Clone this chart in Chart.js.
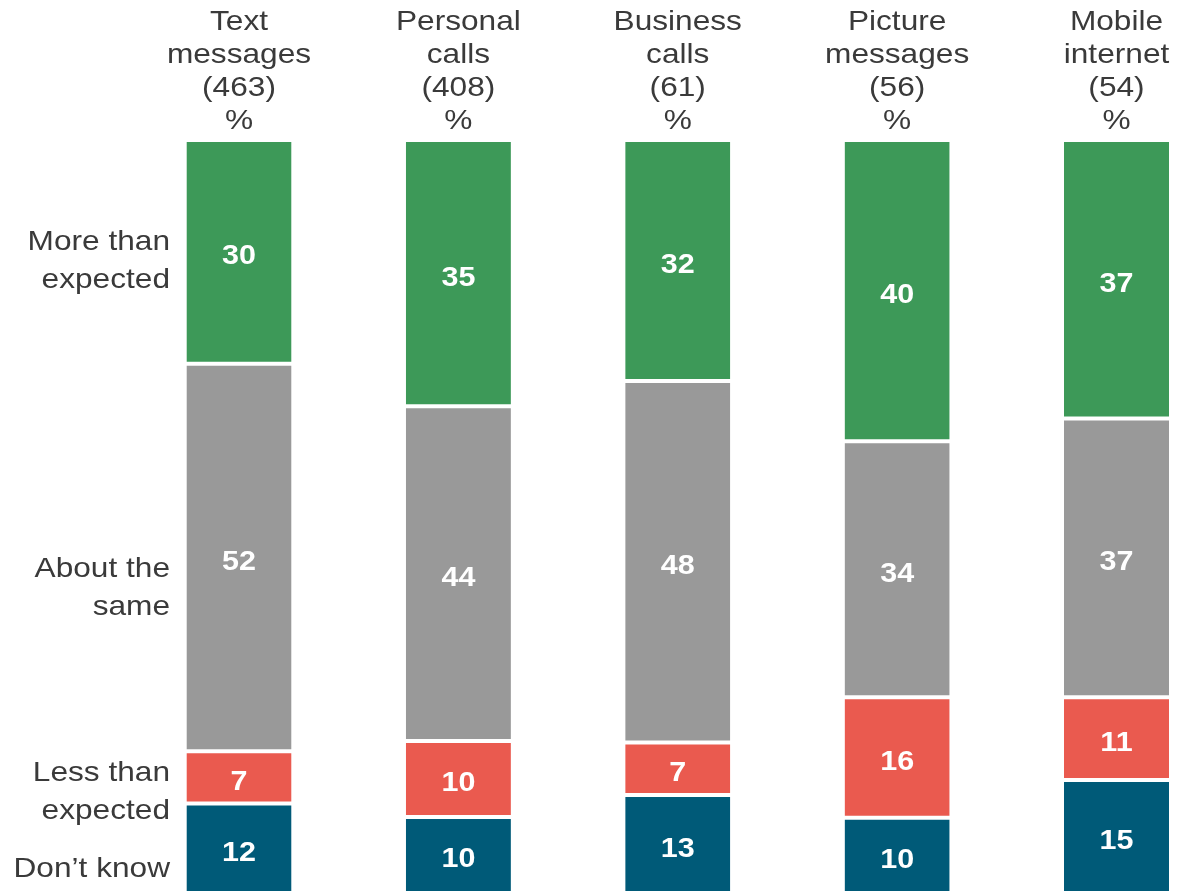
<!DOCTYPE html>
<html lang="en">
<head>
<meta charset="UTF-8">
<title>Usage compared with expectations</title>
<style>
  body { margin: 0; padding: 0; background: #fff; }
  .wrap { width: 1178px; height: 893px; position: relative; }
</style>
</head>
<body>
<div class="wrap"><canvas id="usageChart"></canvas></div>
<script src="https://cdn.jsdelivr.net/npm/chart.js"></script>
<script>
  // column headers (base sizes in brackets)
  const categories = [
    ['Text', 'messages', '(463)', '%'],
    ['Personal', 'calls', '(408)', '%'],
    ['Business', 'calls', '(61)', '%'],
    ['Picture', 'messages', '(56)', '%'],
    ['Mobile', 'internet', '(54)', '%']
  ];

  // answers, bottom of the stack first
  const dontKnow = [12, 10, 13, 10, 15];
  const lessThan = [7, 10, 7, 16, 11];
  const aboutSame = [52, 44, 48, 34, 37];
  const moreThan = [30, 35, 32, 40, 37];

  const rowLabels = [
    { text: ['Don\u2019t know'], at: 3.6 },
    { text: ['Less than', 'expected'], at: 13.8 },
    { text: ['About the', 'same'], at: 40.8 },
    { text: ['More than', 'expected'], at: 84.3 }
  ];

  const series = [dontKnow, lessThan, aboutSame, moreThan];
  const colours = ['#005a78', '#ea5a4f', '#999999', '#3d9958'];
  const names = ['Don\u2019t know', 'Less than expected', 'About the same', 'More than expected'];

  // each column fills the full height, so scale to its own total
  const totals = categories.map((c, i) => series.reduce((s, arr) => s + arr[i], 0));

  const FONT = "'Liberation Sans', Arial, sans-serif";
  const WIDEN = 1.13; // text is set a little wide

  function wideText(ctx, text, x, y) {
    ctx.save();
    ctx.translate(x, y);
    ctx.scale(WIDEN, 1);
    ctx.fillText(text, 0, 0);
    ctx.restore();
  }

  const labelPlugin = {
    id: 'labels',
    afterDatasetsDraw(chart) {
      const ctx = chart.ctx;
      ctx.save();
      ctx.textBaseline = 'middle';

      // values inside the segments
      ctx.fillStyle = '#ffffff';
      ctx.font = 'bold 27px ' + FONT;
      ctx.textAlign = 'center';
      chart.data.datasets.forEach((ds, di) => {
        chart.getDatasetMeta(di).data.forEach((bar, i) => {
          wideText(ctx, String(series[di][i]), bar.x, (bar.y + bar.base) / 2 + 5);
        });
      });

      // column headers
      const x = chart.scales.x;
      ctx.fillStyle = '#3a3a3a';
      ctx.font = '28px ' + FONT;
      categories.forEach((lines, i) => {
        const cx = x.getPixelForTick(i);
        lines.forEach((t, k) => wideText(ctx, t, cx, 22 + k * 33));
      });

      // row labels on the left
      const y = chart.scales.y;
      ctx.textAlign = 'right';
      rowLabels.forEach(r => {
        const mid = y.getPixelForValue(r.at) + 3;
        const lh = 38;
        const top = mid - (r.text.length - 1) * lh / 2;
        r.text.forEach((t, k) => wideText(ctx, t, 170, top + k * lh));
      });
      ctx.restore();
    }
  };

  new Chart(document.getElementById('usageChart'), {
    type: 'bar',
    data: {
      labels: categories,
      datasets: series.map((arr, di) => ({
        label: names[di],
        data: arr.map((v, i) => v / totals[i] * 100),
        backgroundColor: colours[di],
        borderColor: '#ffffff',
        borderWidth: { top: 2, bottom: 2, left: 0, right: 0 },
        borderSkipped: false,
        barPercentage: 0.479,
        categoryPercentage: 1,
        clip: false
      }))
    },
    options: {
      responsive: true,
      maintainAspectRatio: false,
      animation: false,
      layout: { padding: { left: 239, right: 61.5, top: 0, bottom: 0 } },
      plugins: { legend: { display: false }, tooltip: { enabled: false } },
      scales: {
        x: {
          position: 'top',
          stacked: true,
          offset: false,
          grid: { display: false, drawTicks: false },
          border: { display: false },
          ticks: { display: false },
          afterFit(axis) { axis.height = 140; }
        },
        y: {
          stacked: true,
          display: false,
          min: 0,
          max: 100
        }
      }
    },
    plugins: [labelPlugin]
  });
</script>
</body>
</html>
